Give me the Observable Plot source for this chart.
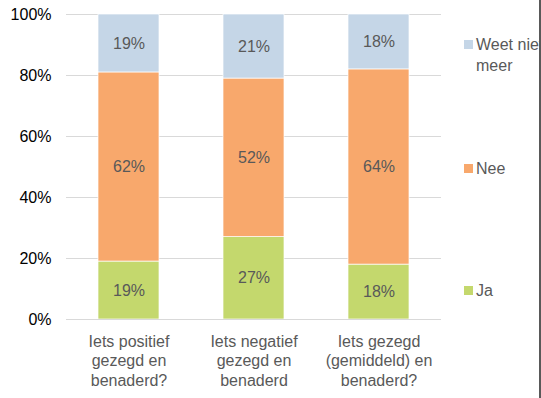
<!DOCTYPE html>
<html><head><meta charset="utf-8">
<script src="https://cdn.jsdelivr.net/npm/d3@7"></script>
<script src="https://cdn.jsdelivr.net/npm/@observablehq/plot@0.6"></script>
<style>
html,body{margin:0;padding:0;background:#fff;overflow:hidden;}
#wrap{position:relative;width:541px;height:398px;overflow:hidden;font-family:"Liberation Sans",Arial,sans-serif;}
#legend{position:absolute;left:464px;top:0;width:80px;}
.li{position:absolute;left:0;width:100px;font-size:16px;color:#595959;line-height:21px;}
.sw{position:absolute;left:0;width:9px;height:9px;}
.lt{position:absolute;left:12px;width:80px;}
#edge{position:absolute;left:539px;top:0;width:2px;height:398px;background:#595959;}
</style></head>
<body><div id="wrap"><div id="chart"></div><div id="legend"></div><div id="edge"></div></div>
<script>
const categories = ["Iets positief\ngezegd en\nbenaderd?", "Iets negatief\ngezegd en\nbenaderd", "Iets gezegd\n(gemiddeld) en\nbenaderd?"];
const seriesNames = ["Ja", "Nee", "Weet niet meer"];
const ja = [19, 27, 18];
const nee = [62, 52, 64];
const weetNietMeer = [19, 21, 18];
const colors = ["#c4d86d", "#f8a86c", "#c5d6e7"];
const yTicks = [0, 20, 40, 60, 80, 100];

const seriesValues = [ja, nee, weetNietMeer];
const data = [];
seriesNames.forEach((s, si) => categories.forEach((c, ci) => data.push({cat: c, series: s, value: seriesValues[si][ci]})));

const chart = Plot.plot({
  width: 541, height: 398,
  marginLeft: 66, marginRight: 100, marginTop: 14, marginBottom: 79,
  style: {fontFamily: '"Liberation Sans", Arial, sans-serif', fontSize: "16px", background: "#fff"},
  x: {domain: categories, paddingInner: 0.51, paddingOuter: 0.25, label: null, tickSize: 0, tickPadding: 14},
  y: {domain: [0, 100], ticks: yTicks, tickFormat: d => d + "%", label: null, tickSize: 0, tickPadding: 15},
  color: {domain: seriesNames, range: colors},
  marks: [
    Plot.gridY(yTicks, {stroke: "#d9d9d9", strokeOpacity: 1}),
    Plot.barY(data, {x: "cat", y: "value", z: "series", fill: "series", order: seriesNames, stroke: "#fff", strokeWidth: 0.7}),
    Plot.ruleY([0], {stroke: "#d9d9d9"}),
    Plot.text(data, Plot.stackY({x: "cat", y: "value", z: "series", order: seriesNames, text: d => d.value + "%", fill: "#595959", fontSize: 16})),
    Plot.axisX({tickSize: 0, tickPadding: 14, color: "#595959", fontSize: 16, lineHeight: 1.2}),
    Plot.axisY({ticks: yTicks, tickFormat: d => d + "%", tickSize: 0, tickPadding: 15, color: "#000", fontSize: 16})
  ]
});
document.getElementById("chart").appendChild(chart);

const legendTop = {"Weet niet meer": 34, "Nee": 158, "Ja": 280};
const leg = document.getElementById("legend");
seriesNames.slice().reverse().forEach(s => {
  const i = seriesNames.indexOf(s);
  const el = document.createElement("div");
  el.className = "li";
  el.style.top = legendTop[s] + "px";
  el.innerHTML = `<div class="sw" style="background:${colors[i]};top:6px"></div><div class="lt">${s}</div>`;
  leg.appendChild(el);
});
</script></body></html>
